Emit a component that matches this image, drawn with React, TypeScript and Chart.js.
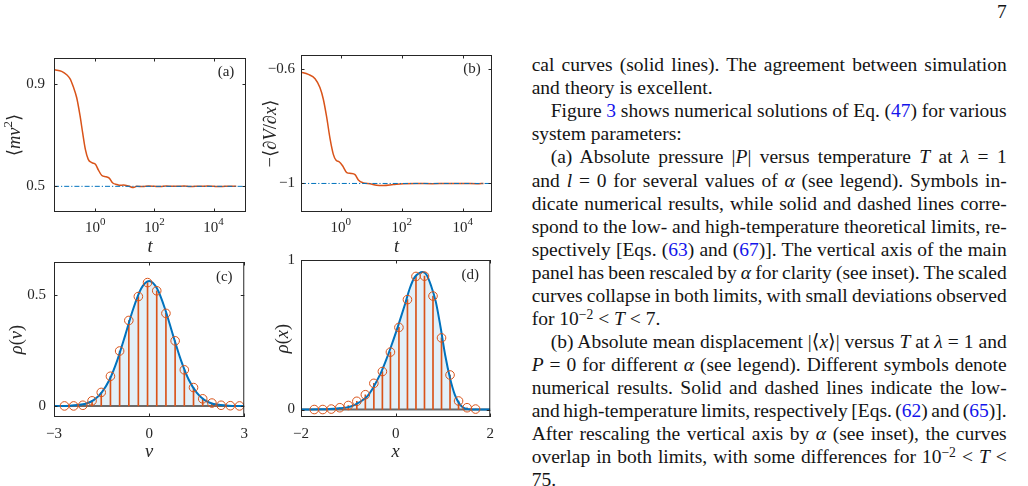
import React, { useEffect, useLayoutEffect, useRef } from 'react';
import { Chart, registerables } from 'chart.js';

Chart.register(...registerables);

const SERIF = "'Liberation Serif', 'Times New Roman', 'DejaVu Serif', serif";
const ORANGE = '#D95319';
const BLUE = '#0072BD';
const INK = '#262626';
const ZERO_GRAY = '#6a6a6a';
const TICK_SIZE = 15;
const TITLE_SIZE = 18.5;

// ---------- (a) relaxation of the kinetic term <m v^2> ----------
const tA = [0.042, 0.072, 0.107, 0.138, 0.178, 0.234, 0.302, 0.372, 0.457, 0.575,
  0.759, 1.02, 1.26, 1.66, 2.29, 2.95, 3.89, 5.37, 6.92, 8.91,
  13.2, 19.5, 25.1, 40, 63, 100, 160, 250, 400, 630,
  1000, 1600, 2500, 4000, 6300, 1e4, 1.6e4, 2.5e4, 4e4, 5.9e4];
const kinA = [0.954, 0.948, 0.935, 0.92, 0.889, 0.845, 0.776, 0.708, 0.645, 0.605,
  0.592, 0.585, 0.564, 0.542, 0.537, 0.532, 0.513, 0.507, 0.504, 0.505,
  0.501, 0.495, 0.5, 0.499, 0.501, 0.5, 0.499, 0.501, 0.5, 0.5,
  0.501, 0.499, 0.5, 0.5, 0.501, 0.5, 0.499, 0.5, 0.5, 0.5];
const kinEq = 0.5;
const tRangeA = [10 ** -1.4, 10 ** 5.1];
const kinRange = [0.4, 1.0];
const kinTicks = [0.5, 0.9];

// ---------- (b) relaxation of the mean force -<dV/dx> ----------
const tB = [0.049, 0.087, 0.145, 0.209, 0.269, 0.347, 0.447, 0.575, 0.708, 0.891,
  1.17, 1.58, 2.19, 2.95, 3.8, 5.5, 9.1, 15.1, 25.1, 52.5,
  112, 300, 1000, 3000, 1e4, 3e4, 4.8e4];
const forceB = [-0.610, -0.618, -0.633, -0.664, -0.704, -0.767, -0.842, -0.898, -0.919, -0.924,
  -0.939, -0.962, -0.965, -0.969, -0.988, -0.998, -1.001, -1.006, -1.007, -1.004,
  -1.001, -1.0, -1.001, -1.0, -1.0, -1.001, -1.0];
const forceEq = -1;
const tRangeB = [10 ** -1.3, 10 ** 4.96];
const forceRange = [-1.1, -0.55];
const forceTicks = [-1, -0.6];

const tTicks = [1, 100, 10000];

// ---------- (c) velocity distribution ----------
const vBins = [-2.67, -2.38, -2.09, -1.80, -1.51, -1.22, -0.93, -0.64, -0.34, -0.05,
  0.24, 0.53, 0.82, 1.11, 1.40, 1.69, 1.98, 2.27, 2.56, 2.85];
const rhoVSim = [0, 0, 0.003, 0.023, 0.061, 0.134, 0.248, 0.386, 0.494, 0.557,
  0.520, 0.418, 0.294, 0.163, 0.083, 0.032, 0.013, 0.003, 0.001, 0];
const vTheory = [-3, -2.75, -2.5, -2.25, -2, -1.75, -1.5, -1.25, -1, -0.75, -0.5, -0.25, 0,
  0.25, 0.5, 0.75, 1, 1.25, 1.5, 1.75, 2, 2.25, 2.5, 2.75, 3];
const rhoVTheory = [0, 0, 0.001, 0.004, 0.010, 0.026, 0.060, 0.118, 0.208, 0.321, 0.439, 0.530, 0.564,
  0.530, 0.439, 0.321, 0.208, 0.118, 0.060, 0.026, 0.010, 0.004, 0.001, 0, 0];
const vRange = [-3, 3];
const rhoVRange = [-0.05, 0.65];
const vTicks = [-3, 0, 3];
const rhoVTicks = [0, 0.5];

// ---------- (d) position distribution ----------
const xBins = [-1.72, -1.54, -1.36, -1.18, -1.00, -0.82, -0.64, -0.46, -0.28, -0.11,
  0.07, 0.25, 0.43, 0.61, 0.79, 0.97, 1.15, 1.33, 1.51, 1.69];
const rhoXSim = [0, 0, 0.003, 0.012, 0.027, 0.055, 0.099, 0.175, 0.254, 0.384,
  0.549, 0.735, 0.890, 0.892, 0.759, 0.479, 0.231, 0.057, 0.012, 0.003];
const xTheory = [-2, -1.8, -1.6, -1.4, -1.2, -1.0, -0.9, -0.8, -0.7, -0.6,
  -0.5, -0.4, -0.3, -0.2, -0.1, 0, 0.1, 0.2, 0.3, 0.4,
  0.5, 0.57, 0.65, 0.75, 0.85, 0.95, 1.05, 1.15, 1.25, 1.35,
  1.45, 1.55, 1.7, 2];
const rhoXTheory = [0, 0, 0.001, 0.003, 0.008, 0.016, 0.026, 0.042, 0.062, 0.088,
  0.132, 0.19, 0.254, 0.332, 0.418, 0.509, 0.606, 0.706, 0.811, 0.884,
  0.912, 0.919, 0.903, 0.827, 0.72, 0.55, 0.36, 0.21, 0.10, 0.038,
  0.009, 0.002, 0, 0];
const xRange = [-2, 2];
const rhoXRange = [-0.05, 1.0];
const xTicks = [-2, 0, 2];
const rhoXTicks = [0, 1];

// ---------- helpers ----------
type Seg = { t: string; it?: boolean; sup?: boolean };

const plainLabel = (v: number) => String(Math.round(v * 100) / 100).replace('-', '−');
const pow10Segs = (v: number): Seg[] => [{ t: '10' }, { t: String(Math.round(Math.log10(v))), sup: true }];
const pts = (xs: number[], ys: number[]) => xs.map((x, i) => ({ x, y: ys[i] }));

function drawRich(ctx: CanvasRenderingContext2D, segs: Seg[], cx: number, cy: number, size: number, vertical: boolean) {
  ctx.save();
  ctx.translate(cx, cy);
  if (vertical) ctx.rotate(-Math.PI / 2);
  const font = (s: Seg) => `${s.it ? 'italic ' : ''}${s.sup ? Math.round(size * 0.7) : size}px ${SERIF}`;
  const widths = segs.map((s) => {
    ctx.font = font(s);
    return ctx.measureText(s.t).width;
  });
  const total = widths.reduce((a, b) => a + b, 0);
  let x = -total / 2;
  const base = size * 0.27;
  ctx.fillStyle = INK;
  ctx.textAlign = 'left';
  ctx.textBaseline = 'alphabetic';
  segs.forEach((s, i) => {
    ctx.font = font(s);
    ctx.fillText(s.t, x, s.sup ? base - size * 0.42 : base);
    x += widths[i];
  });
  ctx.restore();
}

interface PanelSpec {
  xType: 'linear' | 'logarithmic';
  xRange: number[];
  yRange: number[];
  xTicks: number[];
  yTicks: number[];
  xFmt: (v: number) => string;
  yFmt: (v: number) => string;
  powerLabels?: boolean;
  yAxisWidth: number;
  xAxisHeight: number;
  padTop: number;
  padRight: number;
  xPad: number;
  yPad: number;
  tag: string;
  tagDy: number;
  xTitle: Seg[];
  xTitleDy: number;
  yTitle: Seg[];
  yTitleDx: number;
}

// Box, inward ticks on all four sides, power-of-ten labels, panel tag and axis titles
const makeFrame = (p: PanelSpec) => ({
  id: 'frame',
  afterDraw(chart: any) {
    const { ctx, chartArea: a } = chart;
    const xs = chart.scales.x;
    const ys = chart.scales.y;
    const L = 3.5;
    ctx.save();
    ctx.strokeStyle = INK;
    ctx.lineWidth = 1;
    ctx.beginPath();
    xs.ticks.forEach((t: any) => {
      const px = Math.round(xs.getPixelForValue(t.value)) + 0.5;
      ctx.moveTo(px, a.bottom);
      ctx.lineTo(px, a.bottom - L);
      ctx.moveTo(px, a.top);
      ctx.lineTo(px, a.top + L);
    });
    ys.ticks.forEach((t: any) => {
      const py = Math.round(ys.getPixelForValue(t.value)) + 0.5;
      ctx.moveTo(a.left, py);
      ctx.lineTo(a.left + L, py);
      ctx.moveTo(a.right, py);
      ctx.lineTo(a.right - L, py);
    });
    ctx.stroke();
    ctx.strokeRect(a.left + 0.5, a.top + 0.5, a.right - a.left - 1, a.bottom - a.top - 1);

    if (p.powerLabels) {
      xs.ticks.forEach((t: any) => {
        drawRich(ctx, pow10Segs(t.value), xs.getPixelForValue(t.value), a.bottom + 15.5, TICK_SIZE, false);
      });
    }

    ctx.font = `15px ${SERIF}`;
    ctx.fillStyle = INK;
    ctx.textAlign = 'center';
    ctx.textBaseline = 'alphabetic';
    ctx.fillText(p.tag, a.right - 20, a.top + p.tagDy + 15 * 0.25);

    drawRich(ctx, p.xTitle, (a.left + a.right) / 2, a.bottom + p.xTitleDy, TITLE_SIZE, false);
    drawRich(ctx, p.yTitle, a.left - p.yTitleDx, (a.top + a.bottom) / 2, TITLE_SIZE, true);
    ctx.restore();
  },
});

function panelOptions(p: PanelSpec) {
  const tickFont = { family: SERIF, size: TICK_SIZE };
  return {
    animation: false,
    responsive: false,
    devicePixelRatio: 1,
    events: [],
    layout: { padding: { left: 0, top: p.padTop, right: p.padRight, bottom: 0 } },
    plugins: {
      legend: { display: false },
      tooltip: { enabled: false },
      filler: { drawTime: 'beforeDatasetsDraw' },
    },
    scales: {
      x: {
        type: p.xType,
        min: p.xRange[0],
        max: p.xRange[1],
        bounds: 'data',
        offset: false,
        grid: { display: false, drawTicks: false },
        border: { display: false },
        ticks: {
          display: !p.powerLabels,
          autoSkip: false,
          maxRotation: 0,
          minRotation: 0,
          padding: p.xPad,
          color: INK,
          font: tickFont,
          callback: (v: any) => p.xFmt(Number(v)),
        },
        afterBuildTicks: (s: any) => {
          s.ticks = p.xTicks.map((value) => ({ value }));
        },
        afterFit: (s: any) => {
          s.height = p.xAxisHeight;
        },
      },
      y: {
        type: 'linear',
        min: p.yRange[0],
        max: p.yRange[1],
        bounds: 'data',
        grid: { display: false, drawTicks: false },
        border: { display: false },
        ticks: {
          autoSkip: false,
          padding: p.yPad,
          color: INK,
          font: tickFont,
          callback: (v: any) => p.yFmt(Number(v)),
        },
        afterBuildTicks: (s: any) => {
          s.ticks = p.yTicks.map((value) => ({ value }));
        },
        afterFit: (s: any) => {
          s.width = p.yAxisWidth;
        },
      },
    },
  };
}

const relaxDatasets = (ts: number[], vals: number[], eq: number, range: number[]) => [
  {
    type: 'line',
    data: pts(range, [eq, eq]),
    borderColor: BLUE,
    borderWidth: 1,
    borderDash: [5, 2, 1.2, 2],
    pointRadius: 0,
  },
  {
    type: 'line',
    data: pts(ts, vals),
    borderColor: ORANGE,
    borderWidth: 1.5,
    pointRadius: 0,
    cubicInterpolationMode: 'monotone',
  },
];

const histDatasets = (bins: number[], sim: number[], xs: number[], theory: number[], range: number[]) => [
  {
    type: 'line',
    data: pts(bins, sim),
    showLine: false,
    pointRadius: 4.3,
    pointBorderWidth: 1,
    pointBorderColor: ORANGE,
    pointBackgroundColor: 'rgba(0,0,0,0)',
  },
  {
    type: 'line',
    data: pts(xs, theory),
    borderColor: BLUE,
    borderWidth: 2,
    pointRadius: 0,
    cubicInterpolationMode: 'monotone',
    fill: 'origin',
    backgroundColor: 'rgba(0,114,189,0.11)',
  },
  {
    type: 'bar',
    data: pts(bins, sim),
    backgroundColor: ORANGE,
    borderWidth: 0,
    barThickness: 1,
  },
  {
    type: 'line',
    data: pts(range, [0, 0]),
    borderColor: ZERO_GRAY,
    borderWidth: 2,
    pointRadius: 0,
  },
];

const specA: PanelSpec = {
  xType: 'logarithmic', xRange: tRangeA, yRange: kinRange, xTicks: tTicks, yTicks: kinTicks,
  xFmt: plainLabel, yFmt: plainLabel, powerLabels: true,
  yAxisWidth: 54, xAxisHeight: 43, padTop: 12, padRight: 10, xPad: 7, yPad: 9,
  tag: '(a)', tagDy: 14,
  xTitle: [{ t: 't', it: true }], xTitleDy: 34.7,
  yTitle: [{ t: '⟨' }, { t: 'mv', it: true }, { t: '2', sup: true }, { t: '⟩' }], yTitleDx: 39,
};
const specB: PanelSpec = {
  xType: 'logarithmic', xRange: tRangeB, yRange: forceRange, xTicks: tTicks, yTicks: forceTicks,
  xFmt: plainLabel, yFmt: plainLabel, powerLabels: true,
  yAxisWidth: 51, xAxisHeight: 43, padTop: 12, padRight: 10, xPad: 7, yPad: 6,
  tag: '(b)', tagDy: 14,
  xTitle: [{ t: 't', it: true }], xTitleDy: 34.7,
  yTitle: [{ t: '−⟨∂' }, { t: 'V', it: true }, { t: '/∂' }, { t: 'x', it: true }, { t: '⟩' }], yTitleDx: 29.5,
};
const specC: PanelSpec = {
  xType: 'linear', xRange: vRange, yRange: rhoVRange, xTicks: vTicks, yTicks: rhoVTicks,
  xFmt: plainLabel, yFmt: plainLabel,
  yAxisWidth: 54, xAxisHeight: 48, padTop: 12, padRight: 10, xPad: 8, yPad: 8,
  tag: '(c)', tagDy: 15,
  xTitle: [{ t: 'v', it: true }], xTitleDy: 34.7,
  yTitle: [{ t: 'ρ', it: true }, { t: '(' }, { t: 'v', it: true }, { t: ')' }], yTitleDx: 36.5,
};
const specD: PanelSpec = {
  xType: 'linear', xRange: xRange, yRange: rhoXRange, xTicks: xTicks, yTicks: rhoXTicks,
  xFmt: plainLabel, yFmt: plainLabel,
  yAxisWidth: 51, xAxisHeight: 48, padTop: 12, padRight: 10, xPad: 8, yPad: 6,
  tag: '(d)', tagDy: 15,
  xTitle: [{ t: 'x', it: true }], xTitleDy: 34.7,
  yTitle: [{ t: 'ρ', it: true }, { t: '(' }, { t: 'x', it: true }, { t: ')' }], yTitleDx: 17.5,
};

function ChartBox(props: { left: number; top: number; width: number; height: number; spec: PanelSpec; datasets: any[] }) {
  const ref = useRef<HTMLCanvasElement>(null);
  useEffect(() => {
    const chart = new Chart(ref.current as HTMLCanvasElement, {
      type: 'line',
      data: { datasets: props.datasets },
      options: panelOptions(props.spec) as any,
      plugins: [makeFrame(props.spec)],
    } as any);
    return () => chart.destroy();
  }, []);
  return (
    <canvas
      ref={ref}
      width={props.width}
      height={props.height}
      style={{ position: 'absolute', left: props.left, top: props.top, width: props.width, height: props.height }}
    />
  );
}

// ---------- running text column ----------
type Piece = string | { i: string } | { a: string } | { s: string };
type Line = { p: Piece[]; indent?: boolean; last?: boolean };

const TEXT_LINES: Line[] = [
  { p: ['cal curves (solid lines). The agreement between simulation'] },
  { p: ['and theory is excellent.'], last: true },
  { p: ['Figure ', { a: '3' }, ' shows numerical solutions of Eq. (', { a: '47' }, ') for various'], indent: true },
  { p: ['system parameters:'], last: true },
  { p: ['(a) Absolute pressure |', { i: 'P' }, '| versus temperature ', { i: 'T' }, ' at ', { i: 'λ' }, ' = 1'], indent: true },
  { p: ['and ', { i: 'l' }, ' = 0 for several values of ', { i: 'α' }, ' (see legend). Symbols in-'] },
  { p: ['dicate numerical results, while solid and dashed lines corre-'] },
  { p: ['spond to the low- and high-temperature theoretical limits, re-'] },
  { p: ['spectively [Eqs. (', { a: '63' }, ') and (', { a: '67' }, ')]. The vertical axis of the main'] },
  { p: ['panel has been rescaled by ', { i: 'α' }, ' for clarity (see inset). The scaled'] },
  { p: ['curves collapse in both limits, with small deviations observed'] },
  { p: ['for 10', { s: '−2' }, ' < ', { i: 'T' }, ' < 7.'], last: true },
  { p: ['(b) Absolute mean displacement |⟨', { i: 'x' }, '⟩| versus ', { i: 'T' }, ' at ', { i: 'λ' }, ' = 1 and'], indent: true },
  { p: [{ i: 'P' }, ' = 0 for different ', { i: 'α' }, ' (see legend). Different symbols denote'] },
  { p: ['numerical results. Solid and dashed lines indicate the low-'] },
  { p: ['and high-temperature limits, respectively [Eqs. (', { a: '62' }, ') and (', { a: '65' }, ')].'] },
  { p: ['After rescaling the vertical axis by ', { i: 'α' }, ' (see inset), the curves'] },
  { p: ['overlap in both limits, with some differences for 10', { s: '−2' }, ' < ', { i: 'T' }, ' <'] },
  { p: ['75.'], last: true },
];

const COL_LEFT = 531.7;
const COL_WIDTH = 475;
const INDENT = 19;
const LINE_H = 23.07;
const FIRST_TOP = 53.2;
const TEXT_SIZE = 19.5;

function renderPiece(pc: Piece, k: number) {
  if (typeof pc === 'string') return <React.Fragment key={k}>{pc}</React.Fragment>;
  if ('i' in pc) return <i key={k}>{pc.i}</i>;
  if ('a' in pc) return <span key={k} style={{ color: 'rgb(20,20,235)' }}>{pc.a}</span>;
  return (
    <sup key={k} style={{ fontSize: '0.7em', verticalAlign: '0.45em', lineHeight: 0 }}>
      {pc.s}
    </sup>
  );
}

function TextColumn() {
  const refs = useRef<(HTMLDivElement | null)[]>([]);
  useLayoutEffect(() => {
    TEXT_LINES.forEach((ln, idx) => {
      const el = refs.current[idx];
      if (!el || ln.last) return;
      el.style.wordSpacing = '0px';
      const natural = el.getBoundingClientRect().width;
      const spaces = (el.textContent || '').match(/[ \u00a0]/g)?.length || 1;
      const target = COL_WIDTH - (ln.indent ? INDENT : 0);
      el.style.wordSpacing = `${(target - natural) / spaces}px`;
    });
  }, []);
  return (
    <>
      {TEXT_LINES.map((ln, idx) => (
        <div
          key={idx}
          ref={(el) => {
            refs.current[idx] = el;
          }}
          style={{
            position: 'absolute',
            left: COL_LEFT + (ln.indent ? INDENT : 0),
            top: FIRST_TOP + idx * LINE_H,
            whiteSpace: 'nowrap',
            fontFamily: SERIF,
            fontSize: TEXT_SIZE,
            lineHeight: `${LINE_H}px`,
            color: '#141414',
          }}
        >
          {ln.p.map(renderPiece)}
        </div>
      ))}
      <div
        style={{
          position: 'absolute',
          left: 900,
          width: 106.7,
          top: 0.2,
          textAlign: 'right',
          fontFamily: SERIF,
          fontSize: TEXT_SIZE,
          lineHeight: `${LINE_H}px`,
          color: '#141414',
        }}
      >
        7
      </div>
    </>
  );
}

export default function App() {
  return (
    <div
      style={{
        position: 'absolute',
        left: 0,
        top: 0,
        width: 1028,
        height: 486,
        overflow: 'hidden',
        background: '#ffffff',
      }}
    >
      <ChartBox left={0} top={40} width={256} height={215} spec={specA} datasets={relaxDatasets(tA, kinA, kinEq, tRangeA)} />
      <ChartBox left={250} top={40} width={252} height={215} spec={specB} datasets={relaxDatasets(tB, forceB, forceEq, tRangeB)} />
      <ChartBox left={0} top={245} width={256} height={220} spec={specC} datasets={histDatasets(vBins, rhoVSim, vTheory, rhoVTheory, vRange)} />
      <ChartBox left={250} top={245} width={252} height={220} spec={specD} datasets={histDatasets(xBins, rhoXSim, xTheory, rhoXTheory, xRange)} />
      <TextColumn />
    </div>
  );
}
